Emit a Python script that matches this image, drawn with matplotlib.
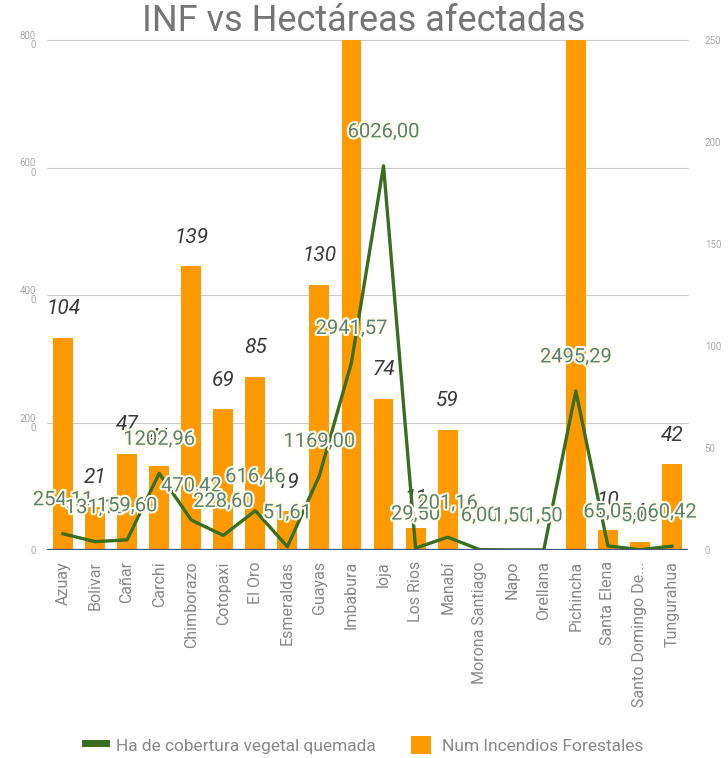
import matplotlib
matplotlib.use("Agg")
import matplotlib.pyplot as plt
from matplotlib.lines import Line2D
from matplotlib.patches import Patch
from matplotlib import patheffects as pe
from matplotlib.transforms import blended_transform_factory

categories = ["Azuay", "Bolivar", "Cañar", "Carchi", "Chimborazo", "Cotopaxi", "El Oro",
              "Esmeraldas", "Guayas", "Imbabura", "loja", "Los Rios", "Manabí",
              "Morona Santiago", "Napo", "Orellana", "Pichincha", "Santa Elena",
              "Santo Domingo De...", "Tungurahua"]
num_incendios = [104, 21, 47, 41, 139, 69, 85, 19, 130, 300, 74, 11, 59, 0, 0, 0, 290, 10, 4, 42]
hectareas = [254.11, 131.15, 159.60, 1202.96, 470.42, 228.60, 616.46, 51.61, 1169.00, 2941.57,
             6026.00, 29.50, 201.16, 6.00, 1.50, 1.50, 2495.29, 65.05, 5.00, 60.42]
left_ticks = [0, 2000, 4000, 6000, 8000]
right_ticks = [0, 50, 100, 150, 200, 250]

plt.rcParams['font.family'] = ['Roboto', 'DejaVu Sans']

W, H = 728, 758
fig = plt.figure(figsize=(W / 100, H / 100), dpi=100)
x0, x1, ytop, ybot = 47, 688, 40, 550
ax_b = fig.add_axes([x0 / W, 1 - ybot / H, (x1 - x0) / W, (ybot - ytop) / H])
ax_l = ax_b.twinx()

xs = list(range(len(categories)))
ORANGE = "#FF9900"
GREEN = "#3a6e1f"

# bars (right scale)
ax_b.bar(xs, num_incendios, width=0.62, color=ORANGE, zorder=2)
ax_b.set_ylim(0, 250)
ax_b.set_xlim(-0.5, len(categories) - 0.5)

# gridlines follow the left scale, drawn beneath bars
ax_l.set_ylim(0, 8000)
gtr = blended_transform_factory(ax_b.transAxes, ax_l.transData)
for t in left_ticks[1:]:
    ax_b.plot([0, 1], [t, t], transform=gtr, color="#cccccc", lw=0.8, zorder=0, clip_on=False)

for x, v in zip(xs, num_incendios):
    if 0 < v <= 250:
        ax_b.annotate(str(v), (x, v), xytext=(0, 21), textcoords="offset points",
                      ha="center", va="center", fontsize=15, style="italic",
                      color="#3a3a3a", zorder=3)

# line (left scale)
ax_l.plot(xs, hectareas, color=GREEN, lw=2.4, zorder=3, solid_joinstyle="round")
for x, v in zip(xs, hectareas):
    ax_l.annotate(f"{v:.2f}".replace(".", ","), (x, v), xytext=(0, 24.5),
                  textcoords="offset points", ha="center", va="center",
                  fontsize=14.5, color="#5b8270", zorder=4,
                  path_effects=[pe.withStroke(linewidth=3, foreground="#fffcec")])

# baseline
ax_l.axhline(0, color="#4a5580", lw=1.6, zorder=5)

for a in (ax_b, ax_l):
    for s in a.spines.values():
        s.set_visible(False)

ax_b.set_xticks(xs)
ax_b.set_xticklabels(categories, rotation=90, fontsize=11.5, color="#888888")
ax_b.tick_params(axis="x", length=0, pad=8)

ax_l.yaxis.tick_left()
ax_l.set_yticks(left_ticks)
ax_l.set_yticklabels(["0"] + [f"{t // 10}\n{t % 10}" for t in left_ticks[1:]],
                     fontsize=7, color="#aaaaaa", linespacing=0.9)
ax_l.tick_params(axis="y", length=0, pad=8)

ax_b.yaxis.tick_right()
ax_b.set_yticks(right_ticks)
ax_b.set_yticklabels([str(t) for t in right_ticks], fontsize=7, color="#aaaaaa")
ax_b.tick_params(axis="y", length=0, pad=12)

fig.text(0.5, 1 - 21 / H, "INF vs Hectáreas afectadas", ha="center", va="center",
         fontsize=26, color="#757575")

handles = [Line2D([0], [0], color=GREEN, lw=5),
           Patch(facecolor=ORANGE, edgecolor="none")]
leg = fig.legend(handles, ["Ha de cobertura vegetal quemada", "Num Incendios Forestales"],
                 loc="center", bbox_to_anchor=(0.5, 1 - 745 / H), ncol=2, frameon=False,
                 fontsize=12.5, handlelength=1.2, handleheight=1.3, columnspacing=2.0,
                 handletextpad=0.6)
for t in leg.get_texts():
    t.set_color("#888888")

fig.savefig("out.png", dpi=100)
